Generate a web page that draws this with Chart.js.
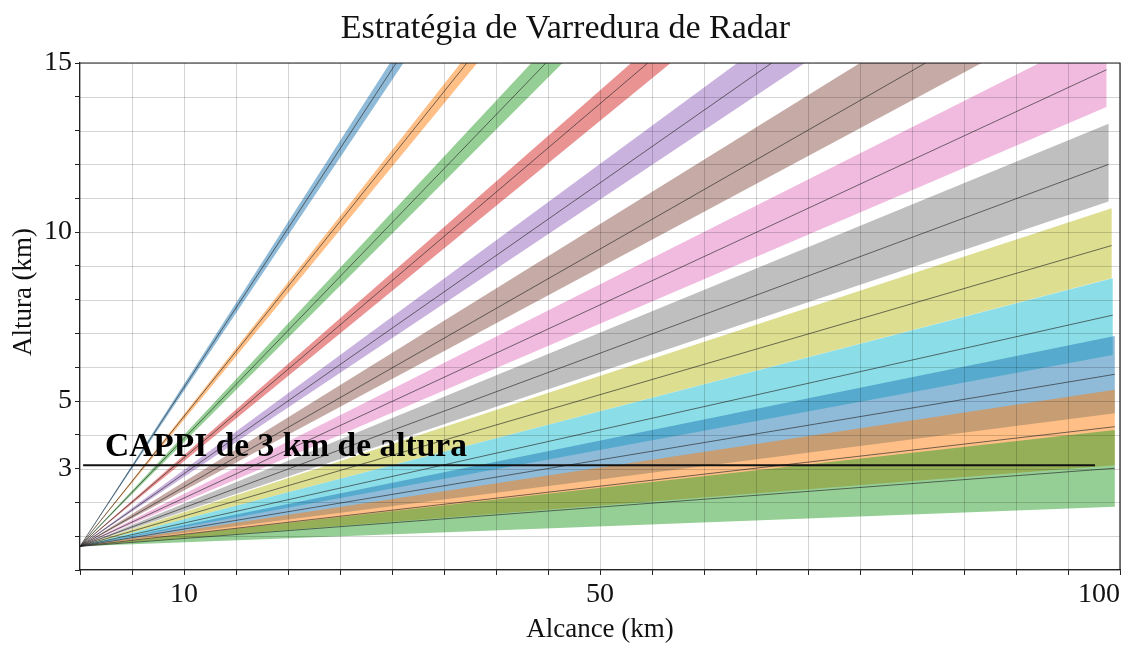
<!DOCTYPE html>
<html>
<head>
<meta charset="utf-8">
<script src="https://cdn.jsdelivr.net/npm/chart.js@4.4.1/dist/chart.umd.min.js"></script>
<style>
  html, body { margin: 0; padding: 0; background: #fff; overflow: hidden; }
  #wrap { width: 1131px; height: 646px; }
  canvas { display: block; }
</style>
</head>
<body>
<div id="wrap"><canvas id="c"></canvas></div>
<script>
const FONT = '"Liberation Serif", "DejaVu Serif", serif';

const titleText = "Estratégia de Varredura de Radar";
const xTitle = "Alcance (km)";
const yTitle = "Altura (km)";
const cappiText = "CAPPI de 3 km de altura";

const xTickLabels = [10, 50, 100];
const yTickLabels = [3, 5, 10, 15];

// radar sits at range 0, this height (km)
const radarHeight = 0.7;

const beamColors = [
  "#1f77b4", "#ff7f0e", "#2ca02c", "#d62728", "#9467bd",
  "#8c564b", "#e377c2", "#7f7f7f", "#bcbd22", "#17becf",
  "#1f77b4", "#ff7f0e", "#2ca02c",
];

// where each beam ends: upper edge, centre, lower edge (range km, height km)
const upperRange = [29.8, 36.6, 43.4, 53.0, 63.2, 75.0, 98.7, 98.9, 99.2, 99.3, 99.5, 99.5, 99.5];
const upperHeight = [15, 15, 15, 15, 15, 15, 16.0, 13.2, 10.7, 8.63, 6.92, 5.33, 4.14];
const centerRange = [30.4, 37.2, 44.8, 54.6, 66.5, 81.3, 98.7, 98.9, 99.2, 99.3, 99.5, 99.5, 99.5];
const centerHeight = [15, 15, 15, 15, 15, 15, 14.8, 12.0, 9.6, 7.54, 5.79, 4.24, 3.01];
const lowerRange = [31.1, 38.2, 46.4, 56.8, 69.7, 86.7, 98.7, 98.9, 99.2, 99.3, 99.5, 99.5, 99.5];
const lowerHeight = [15, 15, 15, 15, 15, 15, 13.7, 10.9, 8.63, 6.36, 4.64, 3.1, 1.87];

const cappiHeight = 3.1;
const cappiStart = 0.3;
const cappiEnd = 97.6;
const cappiLabelAt = { x: 2.4, y: 3.37 };

const GRID = "rgba(0,0,0,0.17)";

function withAlpha(hex, a) {
  const n = parseInt(hex.slice(1), 16);
  return `rgba(${(n >> 16) & 255},${(n >> 8) & 255},${n & 255},${a})`;
}

const datasets = [];
beamColors.forEach((color, i) => {
  // beam cone
  datasets.push({
    data: [
      { x: 0, y: radarHeight },
      { x: upperRange[i], y: upperHeight[i] },
      { x: lowerRange[i], y: lowerHeight[i] },
      { x: 0, y: radarHeight },
    ],
    backgroundColor: withAlpha(color, 0.5),
    borderColor: "rgba(0,0,0,0)",
    borderWidth: 0,
    pointRadius: 0,
    fill: "shape",
    order: 100 - i,
  });
  // beam axis
  datasets.push({
    data: [{ x: 0, y: radarHeight }, { x: centerRange[i], y: centerHeight[i] }],
    borderColor: "rgba(40,40,40,0.65)",
    borderWidth: 1,
    pointRadius: 0,
    fill: false,
    order: 10,
  });
});
datasets.push({
  data: [{ x: cappiStart, y: cappiHeight }, { x: cappiEnd, y: cappiHeight }],
  borderColor: "#111",
  borderWidth: 2,
  pointRadius: 0,
  fill: false,
  order: 0,
});

// grid over the beam fills, as in the original
const gridOverPlugin = {
  id: "gridOver",
  afterDatasetsDraw(chart) {
    const { ctx, chartArea: a, scales } = chart;
    ctx.save();
    ctx.strokeStyle = GRID;
    ctx.lineWidth = 1;
    ctx.beginPath();
    scales.x.ticks.forEach((t) => {
      const px = Math.round(scales.x.getPixelForValue(t.value)) + 0.5;
      ctx.moveTo(px, a.top);
      ctx.lineTo(px, a.bottom);
    });
    scales.y.ticks.forEach((t) => {
      const py = Math.round(scales.y.getPixelForValue(t.value)) + 0.5;
      ctx.moveTo(a.left, py);
      ctx.lineTo(a.right, py);
    });
    ctx.stroke();
    ctx.restore();
  },
};

const textPlugin = {
  id: "texts",
  afterDraw(chart) {
    const { ctx, chartArea: a, scales } = chart;
    ctx.save();
    ctx.strokeStyle = "#222";
    ctx.lineWidth = 1.2;
    ctx.beginPath();
    ctx.moveTo(a.left, a.top);
    ctx.lineTo(a.right, a.top);
    ctx.lineTo(a.right, a.bottom);
    ctx.stroke();

    ctx.fillStyle = "#111";
    ctx.textAlign = "center";
    ctx.textBaseline = "alphabetic";
    ctx.font = `34px ${FONT}`;
    ctx.fillText(titleText, chart.width / 2, 38);

    ctx.save();
    ctx.translate(31, 292);
    ctx.rotate(-Math.PI / 2);
    ctx.font = `27px ${FONT}`;
    ctx.fillText(yTitle, 0, 0);
    ctx.restore();

    ctx.textAlign = "left";
    ctx.font = `bold 33.5px ${FONT}`;
    ctx.fillStyle = "#000";
    ctx.fillText(cappiText, scales.x.getPixelForValue(cappiLabelAt.x), scales.y.getPixelForValue(cappiLabelAt.y));
    ctx.restore();
  },
};

new Chart(document.getElementById("c"), {
  type: "line",
  data: { datasets },
  options: {
    animation: false,
    responsive: true,
    maintainAspectRatio: false,
    layout: { padding: { top: 63, right: 11, left: 0, bottom: 0 } },
    plugins: { legend: { display: false }, tooltip: { enabled: false }, title: { display: false } },
    scales: {
      x: {
        type: "linear",
        min: 0,
        max: 100,
        afterFit: (s) => { s.height = 76; },
        grid: { drawOnChartArea: false, color: GRID, tickColor: "#222", tickLength: 5 },
        border: { color: "#222", width: 1.2 },
        ticks: {
          stepSize: 5,
          autoSkip: false,
          maxRotation: 0,
          align: "inner",
          padding: 3,
          color: "#111",
          font: { family: FONT, size: 28 },
          callback: (v) => (xTickLabels.includes(v) ? String(v) : ""),
        },
        title: { display: true, text: xTitle, color: "#111", font: { family: FONT, size: 27 }, padding: { top: 0, bottom: 0 } },
      },
      y: {
        type: "linear",
        min: 0,
        max: 15,
        afterFit: (s) => { s.width = 80; },
        grid: { drawOnChartArea: false, color: GRID, tickColor: "#222", tickLength: 5 },
        border: { color: "#222", width: 1.2 },
        ticks: {
          stepSize: 1,
          autoSkip: false,
          padding: 3,
          color: "#111",
          font: { family: FONT, size: 28 },
          callback: (v) => (yTickLabels.includes(v) ? String(v) : ""),
        },
      },
    },
  },
  plugins: [gridOverPlugin, textPlugin],
});
</script>
</body>
</html>
